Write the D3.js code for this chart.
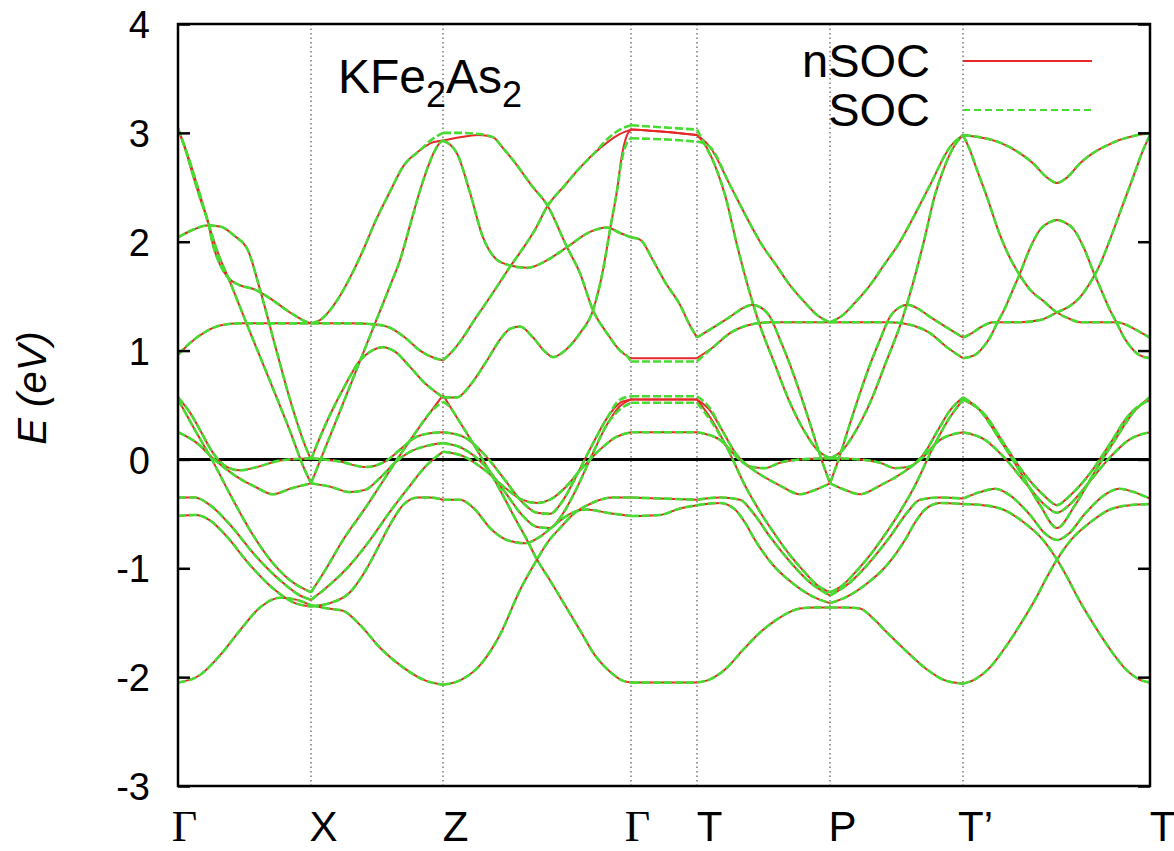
<!DOCTYPE html>
<html><head><meta charset="utf-8">
<script src="https://cdn.jsdelivr.net/npm/d3@7"></script>
<style>body{margin:0;background:#fff;} svg{display:block;}</style>
</head><body>
<svg id="c" width="1174" height="851"></svg>
<script>
// ---- k-path (high-symmetry points) and axis labels ----
const kNodes = [0, 1.33, 2.65, 4.53, 5.19, 6.52, 7.85, 9.72];
const kLabels = ["Γ", "X", "Z", "Γ", "T", "P", "T’", "T"];
const yTicks = [-3, -2, -1, 0, 1, 2, 3, 4];
const seriesNames = ["nSOC", "SOC"];

// ---- band data: [k, E(eV)] ----
const u1 = [[0,3.04],[0.12,2.73],[0.22,2.43],[0.30,2.18],[0.39,1.92],[0.52,1.63],[0.72,1.17],[0.92,0.72],[1.12,0.26],[1.26,-0.08],[1.33,-0.22],
[1.40,-0.06],[1.54,0.26],[1.74,0.72],[1.94,1.18],[2.14,1.64],[2.22,1.83],[2.32,2.15],[2.42,2.47],[2.50,2.69],[2.57,2.84],[2.62,2.91],[2.65,2.93],
[2.79,2.81],[2.92,2.45],[3.05,2.04],[3.17,1.85],[3.29,1.79],[3.49,1.76],[3.69,1.83],[3.89,1.95],[4.12,2.09],[4.29,2.13],[4.42,2.08],[4.53,2.04],
[4.62,2.02],[4.75,1.83],[4.87,1.63],[5.02,1.42],[5.12,1.23],[5.19,1.12],
[5.35,1.21],[5.52,1.31],[5.65,1.39],[5.74,1.42],[5.82,1.40],[5.92,1.31],[6.02,1.10],[6.12,0.87],[6.22,0.61],[6.32,0.33],[6.42,0.04],[6.52,-0.22],
[6.62,0.04],[6.72,0.33],[6.82,0.61],[6.92,0.87],[7.02,1.10],[7.12,1.31],[7.22,1.40],[7.30,1.42],[7.39,1.39],[7.52,1.31],[7.69,1.21],[7.85,1.12],
[7.92,1.15],[8.02,1.21],[8.15,1.26],[8.42,1.26],[8.62,1.28],[8.79,1.35],[8.92,1.41],[9.02,1.49],[9.12,1.62],[9.22,1.79],[9.32,2.02],[9.42,2.27],[9.55,2.59],[9.65,2.84],[9.72,2.98]];

const u2a = [[0,3.04],[0.07,2.86],[0.15,2.61],[0.22,2.40],[0.30,2.18],[0.35,1.97],[0.42,1.79],[0.50,1.67],[0.62,1.60],[0.77,1.56],[0.92,1.48],[1.12,1.35],[1.27,1.27],[1.33,1.25],
[1.42,1.28],[1.59,1.46],[1.72,1.67],[1.85,1.92],[1.97,2.18],[2.12,2.46],[2.25,2.69],[2.42,2.84]];
const u2zN = [[2.54,2.91],[2.65,2.93],[2.82,2.96],[3.00,2.98],[3.15,2.96]];
const u2zS = [[2.54,2.94],[2.65,3.00],[2.82,3.00],[3.00,2.99],[3.15,2.96]];
const u2b = [[3.25,2.86],[3.35,2.75],[3.55,2.50],[3.69,2.34],[3.89,1.95],[4.02,1.71],[4.15,1.37],[4.29,1.16],[4.42,1.00],[4.49,0.95]];
const u2gN = [[4.53,0.93],[5.19,0.93]];
const u2gS = [[4.53,0.90],[5.19,0.90]];
const u2c = [[5.35,1.03],[5.52,1.16],[5.69,1.23],[5.92,1.26],[6.52,1.26],[7.12,1.26],[7.35,1.23],[7.52,1.16],[7.69,1.03],[7.85,0.93],
[7.97,0.96],[8.05,1.03],[8.12,1.12],[8.19,1.25],[8.27,1.39],[8.34,1.54],[8.42,1.71],[8.52,1.94],[8.62,2.11],[8.72,2.18],[8.79,2.20],[8.86,2.18],[8.96,2.11],[9.06,1.94],[9.16,1.71],[9.24,1.54],[9.31,1.39],[9.39,1.25],[9.46,1.12],[9.53,1.03],[9.61,0.96],[9.72,0.93]];

const u3a = [[0,2.04],[0.15,2.11],[0.29,2.15],[0.42,2.14],[0.57,2.05],[0.70,1.92],[0.82,1.56],[0.97,1.05],[1.12,0.55],[1.27,0.13],[1.33,0.00],
[1.40,0.16],[1.52,0.41],[1.67,0.68],[1.82,0.91],[1.94,1.00],[2.05,1.03],[2.17,0.99],[2.32,0.85],[2.47,0.70],[2.59,0.61],[2.65,0.57],
[2.79,0.57],[2.92,0.68],[3.09,0.91],[3.22,1.10],[3.32,1.20],[3.42,1.22],[3.55,1.12],[3.67,0.99],[3.75,0.94],[3.87,1.00],[4.02,1.16],[4.15,1.37],[4.25,1.74],[4.32,2.11],[4.39,2.47]];
const u3gN = [[4.44,2.80],[4.49,2.98],[4.53,3.03],[4.86,3.01],[5.19,2.98]];
const u3gS = [[4.44,2.76],[4.49,2.91],[4.53,2.95],[4.86,2.94],[5.19,2.92]];
const u3b = [[5.32,2.87],[5.52,2.52],[5.70,2.20],[5.84,1.97],[5.97,1.80],[6.12,1.60],[6.27,1.44],[6.40,1.32],[6.52,1.26],
[6.64,1.32],[6.77,1.44],[6.92,1.60],[7.07,1.80],[7.20,1.97],[7.34,2.20],[7.52,2.52],[7.72,2.87],[7.85,2.98],
[7.92,2.84],[7.99,2.66],[8.09,2.41],[8.22,2.06],[8.32,1.85],[8.42,1.69],[8.52,1.56],[8.66,1.45],[8.79,1.35],[8.92,1.29],[9.02,1.26],[9.39,1.26],[9.52,1.22],[9.62,1.17],[9.72,1.12]];

const u4a = [[0,0.96],[0.12,1.07],[0.27,1.17],[0.42,1.23],[0.62,1.25],[0.92,1.25],[1.33,1.25],
[1.72,1.25],[1.97,1.24],[2.12,1.21],[2.27,1.12],[2.42,1.00],[2.57,0.93],[2.65,0.91],
[2.74,0.99],[2.85,1.12],[2.97,1.29],[3.09,1.45],[3.22,1.63],[3.32,1.77],[3.42,1.90],[3.57,2.11],[3.69,2.32],[3.87,2.52],[4.02,2.68],[4.17,2.82]];
const u4gN = [[4.29,2.91],[4.42,2.99],[4.53,3.03],[4.86,3.01],[5.19,2.98]];
const u4gS = [[4.29,2.94],[4.42,3.03],[4.53,3.07],[4.86,3.05],[5.19,3.03]];
const u4b = [[5.27,2.89],[5.37,2.70],[5.47,2.43],[5.59,1.97],[5.69,1.62],[5.79,1.31],[5.97,0.87],[6.12,0.52],[6.27,0.25],[6.39,0.09],[6.52,0.01],
[6.65,0.09],[6.77,0.25],[6.92,0.52],[7.07,0.87],[7.25,1.31],[7.35,1.62],[7.45,1.97],[7.57,2.43],[7.67,2.70],[7.77,2.89],[7.85,2.98],
[8.22,2.91],[8.55,2.72],[8.69,2.59],[8.79,2.54],[8.89,2.59],[9.02,2.72],[9.35,2.91],[9.72,3.00]];

const l1a = [[0,0.57],[0.12,0.43],[0.22,0.27],[0.35,0.06],[0.49,-0.07],[0.62,-0.10],[0.79,-0.07],[1.02,-0.01],[1.33,0.01],
[1.62,-0.02],[1.87,-0.07],[2.07,-0.02],[2.22,0.09],[2.37,0.20],[2.52,0.24],[2.65,0.25],
[2.85,0.21],[3.07,0.04],[3.27,-0.19],[3.44,-0.39],[3.59,-0.49],[3.72,-0.50],[3.84,-0.39],[3.99,-0.14],[4.14,0.13],[4.29,0.38]];
const l1gN = [[4.42,0.52],[4.53,0.55],[5.19,0.55],[5.32,0.45]];
const l1gS = [[4.42,0.55],[4.53,0.58],[5.19,0.58],[5.32,0.47]];
const l1b = [[5.44,0.27],[5.59,0.04],[5.74,-0.07],[5.87,-0.08],[6.02,-0.03],[6.22,0.00],[6.52,0.01],
[6.82,0.00],[7.02,-0.03],[7.17,-0.08],[7.30,-0.07],[7.45,0.04],[7.60,0.27],[7.72,0.45],[7.85,0.57],
[8.02,0.45],[8.22,0.18],[8.42,-0.11],[8.62,-0.42],[8.79,-0.63],[8.97,-0.42],[9.17,-0.11],[9.37,0.18],[9.57,0.45],[9.72,0.57]];

const l2a = [[0,0.25],[0.19,0.15],[0.35,0.01],[0.59,-0.16],[0.79,-0.26],[0.95,-0.32],[1.12,-0.27],[1.33,-0.22],
[1.52,-0.25],[1.72,-0.30],[1.87,-0.28],[2.02,-0.17],[2.17,-0.03],[2.32,0.07],[2.47,0.12],[2.65,0.15],
[2.85,0.10],[3.07,-0.06],[3.27,-0.30],[3.44,-0.51],[3.59,-0.62],[3.72,-0.63],[3.84,-0.51],[3.99,-0.26],[4.14,0.04],[4.29,0.32]];
const l2gN = [[4.42,0.49],[4.53,0.55],[5.19,0.55],[5.34,0.36]];
const l2gS = [[4.42,0.46],[4.53,0.52],[5.19,0.52],[5.34,0.34]];
const l2b = [[5.50,0.09],[5.67,-0.24],[5.84,-0.51],[5.97,-0.69],[6.12,-0.88],[6.27,-1.04],[6.40,-1.16],[6.52,-1.22],
[6.64,-1.16],[6.77,-1.04],[6.92,-0.88],[7.07,-0.69],[7.20,-0.51],[7.37,-0.24],[7.54,0.09],[7.70,0.36],[7.85,0.55],
[8.07,0.41],[8.27,0.13],[8.47,-0.14],[8.67,-0.34],[8.79,-0.42],[8.91,-0.34],[9.11,-0.14],[9.31,0.13],[9.51,0.41],[9.72,0.55]];

const v1a = [[0,0.55],[0.17,0.27],[0.35,-0.02],[0.52,-0.32],[0.72,-0.65],[0.92,-0.92],[1.12,-1.11],[1.33,-1.22],
[1.47,-1.02],[1.65,-0.74],[1.87,-0.45],[2.07,-0.17],[2.22,0.04],[2.37,0.24],[2.52,0.43]];
const v1zN = [[2.65,0.59]];
const v1zS = [[2.59,0.49],[2.65,0.53],[2.71,0.49]];
const v1b = [[2.82,0.34],[3.02,0.04],[3.22,-0.28],[3.37,-0.54],[3.49,-0.74],[3.59,-0.92],[3.72,-1.11],[3.87,-1.34],[4.02,-1.57],[4.17,-1.80],[4.32,-1.95],[4.44,-2.03],[4.53,-2.05],
[5.19,-2.05],
[5.32,-2.02],[5.47,-1.93],[5.65,-1.75],[5.82,-1.59],[5.99,-1.47],[6.12,-1.40],[6.22,-1.37],[6.37,-1.36],[6.52,-1.36],
[6.67,-1.36],[6.82,-1.37],[6.95,-1.46],[7.09,-1.59],[7.27,-1.75],[7.49,-1.93],[7.67,-2.03],[7.85,-2.06],
[7.97,-2.02],[8.12,-1.91],[8.27,-1.73],[8.42,-1.52],[8.57,-1.29],[8.69,-1.08],[8.79,-0.92],[8.93,-0.74],[9.12,-0.58],[9.32,-0.46],[9.52,-0.42],[9.72,-0.41]];

const v2 = [[0,-0.35],[0.17,-0.35],[0.32,-0.42],[0.52,-0.60],[0.77,-0.88],[1.02,-1.11],[1.22,-1.25],[1.33,-1.29],
[1.52,-1.15],[1.72,-0.97],[1.92,-0.74],[2.12,-0.48],[2.32,-0.24],[2.47,-0.07],[2.59,0.03],[2.65,0.07],
[2.85,0.03],[3.07,-0.10],[3.27,-0.26],[3.44,-0.37],[3.59,-0.40],[3.72,-0.37],[3.87,-0.26],[4.04,-0.08],[4.22,0.09],[4.37,0.20],[4.53,0.25],
[5.19,0.25],
[5.42,0.18],[5.59,0.02],[5.79,-0.12],[6.02,-0.24],[6.22,-0.32],[6.37,-0.28],[6.52,-0.22],
[6.67,-0.28],[6.82,-0.32],[7.02,-0.24],[7.25,-0.12],[7.45,0.02],[7.62,0.18],[7.85,0.25],
[8.07,0.18],[8.27,0.01],[8.47,-0.21],[8.67,-0.42],[8.79,-0.49],[8.91,-0.42],[9.11,-0.21],[9.31,0.01],[9.51,0.18],[9.72,0.25]];

const v3 = [[0,-0.52],[0.17,-0.51],[0.32,-0.56],[0.47,-0.69],[0.72,-0.97],[0.97,-1.20],[1.17,-1.32],[1.33,-1.35],
[1.52,-1.32],[1.72,-1.22],[1.87,-1.03],[2.00,-0.81],[2.12,-0.60],[2.25,-0.42],[2.40,-0.35],[2.52,-0.35],[2.65,-0.37],
[2.82,-0.37],[2.97,-0.46],[3.12,-0.63],[3.29,-0.74],[3.47,-0.77],[3.62,-0.71],[3.77,-0.60],[3.92,-0.50],[4.09,-0.46],[4.29,-0.49],[4.53,-0.52],
[4.82,-0.51],[5.02,-0.45],[5.19,-0.42],
[5.42,-0.40],[5.57,-0.46],[5.67,-0.58],[5.77,-0.74],[5.95,-0.97],[6.15,-1.14],[6.37,-1.27],[6.52,-1.32],
[6.67,-1.27],[6.89,-1.14],[7.09,-0.97],[7.27,-0.74],[7.37,-0.58],[7.47,-0.46],[7.62,-0.40],[7.85,-0.41],
[8.05,-0.42],[8.25,-0.46],[8.46,-0.58],[8.65,-0.74],[8.79,-0.92],[8.89,-1.08],[9.01,-1.29],[9.16,-1.52],[9.31,-1.73],[9.46,-1.91],[9.61,-2.02],[9.72,-2.05]];

const b0 = [[0,-2.05],[0.22,-1.98],[0.42,-1.80],[0.62,-1.57],[0.82,-1.36],[1.02,-1.27],[1.19,-1.29],[1.33,-1.34],
[1.50,-1.37],[1.65,-1.39],[1.82,-1.52],[2.02,-1.73],[2.25,-1.91],[2.47,-2.03],[2.65,-2.07],
[2.82,-2.03],[3.02,-1.89],[3.22,-1.61],[3.42,-1.20],[3.59,-0.92],[3.69,-0.77],[3.82,-0.63],[3.97,-0.49],[4.14,-0.40],[4.34,-0.35],[4.53,-0.35],
[5.19,-0.37],
[5.42,-0.35],[5.62,-0.37],[5.75,-0.49],[5.92,-0.71],[6.12,-0.94],[6.32,-1.13],[6.52,-1.25],
[6.72,-1.13],[6.92,-0.94],[7.12,-0.71],[7.29,-0.49],[7.42,-0.37],[7.62,-0.35],[7.85,-0.36],
[8.02,-0.30],[8.17,-0.27],[8.32,-0.33],[8.52,-0.51],[8.67,-0.68],[8.79,-0.74],[8.91,-0.68],[9.06,-0.51],[9.26,-0.33],[9.41,-0.27],[9.56,-0.30],[9.72,-0.36]];

const nsocBands = [u1, u2a.concat(u2zN, u2b, u2gN, u2c), u3a.concat(u3gN, u3b), u4a.concat(u4gN, u4b),
  l1a.concat(l1gN, l1b), l2a.concat(l2gN, l2b), v1a.concat(v1zN, v1b), v2, v3, b0];
const socBands = [u1, u2a.concat(u2zS, u2b, u2gS, u2c), u3a.concat(u3gS, u3b), u4a.concat(u4gS, u4b),
  l1a.concat(l1gS, l1b), l2a.concat(l2gS, l2b), v1a.concat(v1zS, v1b), v2, v3, b0];

// ---- drawing ----
const L = 178, R = 1150, T = 24, B = 786;
const RED = "#e62828", GREEN = "#46dc32";
const x = d3.scaleLinear().domain([kNodes[0], kNodes[kNodes.length - 1]]).range([L, R]);
const y = d3.scaleLinear().domain([-3, 4]).range([B, T]);
const svg = d3.select("#c");
svg.append("rect").attr("width", 1174).attr("height", 851).attr("fill", "#fff");
svg.append("defs").append("clipPath").attr("id", "clip").append("rect")
  .attr("x", L).attr("y", T).attr("width", R - L).attr("height", B - T);

// dotted high-symmetry lines
svg.append("g").selectAll("line").data(kNodes.slice(1, -1)).join("line")
  .attr("x1", d => x(d)).attr("x2", d => x(d)).attr("y1", T).attr("y2", B)
  .attr("stroke", "#555").attr("stroke-width", 1.2).attr("stroke-dasharray", "1.5,3");

// Fermi level
svg.append("line").attr("x1", L).attr("x2", R).attr("y1", y(0)).attr("y2", y(0))
  .attr("stroke", "#000").attr("stroke-width", 3);

function splitAtNodes(pts) {
  const out = []; let cur = [];
  pts.forEach(p => {
    cur.push(p);
    const isNode = kNodes.some(k => Math.abs(k - p[0]) < 1e-6);
    if (isNode && cur.length > 1) { out.push(cur); cur = [p]; }
  });
  if (cur.length > 1) out.push(cur);
  return out;
}
const line = d3.line().x(d => x(d[0])).y(d => y(d[1])).curve(d3.curveMonotoneX);
const gb = svg.append("g").attr("clip-path", "url(#clip)");
gb.append("g").selectAll("path").data(nsocBands.flatMap(splitAtNodes)).join("path")
  .attr("d", line).attr("fill", "none").attr("stroke", RED).attr("stroke-width", 2);
gb.append("g").selectAll("path").data(socBands.flatMap(splitAtNodes)).join("path")
  .attr("d", line).attr("fill", "none").attr("stroke", GREEN).attr("stroke-width", 2.6)
  .attr("stroke-dasharray", "8,3");

// axes
const FONT = "'Liberation Sans', Arial, Helvetica, sans-serif";
const yl = svg.append("g").attr("transform", `translate(${L},0)`)
  .call(d3.axisLeft(y).tickValues(yTicks).tickSize(-12).tickPadding(28).tickFormat(d => String(d)));
yl.select(".domain").remove();
yl.selectAll(".tick line").attr("stroke", "#000").attr("stroke-width", 2.5);
yl.selectAll(".tick text").attr("font-family", FONT).attr("font-size", 38).attr("fill", "#000").attr("dy", "0.36em");
const yr = svg.append("g").attr("transform", `translate(${R},0)`)
  .call(d3.axisRight(y).tickValues(yTicks).tickSize(-12).tickFormat(""));
yr.select(".domain").remove();
yr.selectAll(".tick line").attr("stroke", "#000").attr("stroke-width", 2.5);

const xb = svg.append("g").attr("transform", `translate(0,${B})`)
  .call(d3.axisBottom(x).tickValues(kNodes).tickSize(0).tickFormat((d, i) => kLabels[i]));
xb.select(".domain").remove();
xb.selectAll(".tick text")
  .attr("y", 55).attr("dy", 0)
  .attr("x", (d, i) => kLabels[i] === "Γ" ? 6 : 12)
  .attr("font-family", (d, i) => kLabels[i] === "Γ" ? "'Liberation Serif', 'DejaVu Serif', serif" : FONT)
  .attr("font-size", (d, i) => kLabels[i] === "Γ" ? 44 : 42)
  .attr("fill", "#000");

// frame
svg.append("rect").attr("x", L).attr("y", T).attr("width", R - L).attr("height", B - T)
  .attr("fill", "none").attr("stroke", "#000").attr("stroke-width", 2.5);

// y title
svg.append("text").attr("transform", "translate(46,388) rotate(-90)")
  .attr("text-anchor", "middle").attr("font-family", FONT).attr("font-size", 40)
  .attr("font-style", "italic").text("E (eV)");

// compound label
const tl = svg.append("text").attr("x", 338).attr("y", 93).attr("font-family", FONT).attr("font-size", 48);
tl.append("tspan").text("KFe");
tl.append("tspan").attr("font-size", 36).attr("dy", 14).text("2");
tl.append("tspan").attr("dy", -14).text("As");
tl.append("tspan").attr("font-size", 36).attr("dy", 14).text("2");

// legend
const lg = svg.append("g");
[{name: seriesNames[0], y: 77, c: RED, dash: null, w: 2},
 {name: seriesNames[1], y: 126, c: GREEN, dash: "7,4", w: 2.2}].forEach(s => {
  lg.append("text").attr("x", 930).attr("y", s.y).attr("text-anchor", "end")
    .attr("font-family", FONT).attr("font-size", 47).text(s.name);
  lg.append("line").attr("x1", 963).attr("x2", 1092).attr("y1", s.y - 16).attr("y2", s.y - 16)
    .attr("stroke", s.c).attr("stroke-width", s.w).attr("stroke-dasharray", s.dash);
});
</script>
</body></html>
